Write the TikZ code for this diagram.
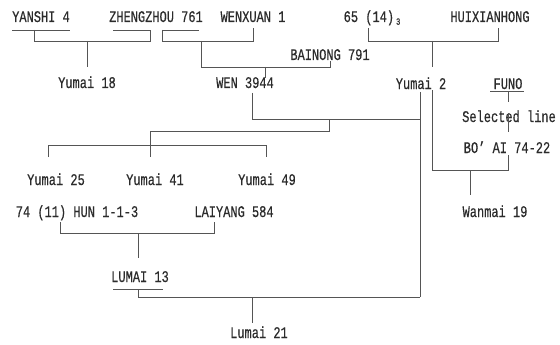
\documentclass[tikz,border=0pt]{standalone}
\usepackage{fontspec}
\setmainfont[FakeBold=0.5]{Liberation Mono}
\definecolor{txt}{HTML}{2B2B2B}
\definecolor{lnc}{HTML}{555555}
\newcommand{\lblt}[1]{\scalebox{1}[1.35]{#1}}
\begin{document}
\begin{tikzpicture}[x=1pt,y=-1pt,
  lbl/.style={inner sep=0pt,anchor=base,text=txt,font=\fontsize{12}{12}\selectfont},
  ln/.style={draw=lnc,line width=0.9pt}]
\useasboundingbox[fill=white] (0,0) rectangle (560,345);
% labels
\node[lbl] (yanshi) at (41,22) {\lblt{YANSHI 4}};
\node[lbl] (zheng) at (156,22) {\lblt{ZHENGZHOU 761}};
\node[lbl] (wenxuan) at (253,22) {\lblt{WENXUAN 1}};
\node[lbl] (s65) at (372,22) {\lblt{65 (14)\,\raisebox{-2pt}{\fontsize{7}{7}\selectfont 3}}};
\node[lbl] (hui) at (490,22) {\lblt{HUIXIANHONG}};
\node[lbl] (bainong) at (330,60) {\lblt{BAINONG 791}};
\node[lbl] (yumai18) at (87,88) {\lblt{Yumai 18}};
\node[lbl] (wen) at (245,88) {\lblt{WEN 3944}};
\node[lbl] (yumai2) at (421,89) {\lblt{Yumai 2}};
\node[lbl] (funo) at (508,89) {\lblt{FUNO}};
\node[lbl] (selected) at (509,122) {\lblt{Selected line}};
\node[lbl] (boai) at (507,153) {\lblt{BO’ AI 74-22}};
\node[lbl] (yumai25) at (56,185) {\lblt{Yumai 25}};
\node[lbl] (yumai41) at (155,185) {\lblt{Yumai 41}};
\node[lbl] (yumai49) at (267,185) {\lblt{Yumai 49}};
\node[lbl] (hun) at (77,217) {\lblt{74 (11) HUN 1-1-3}};
\node[lbl] (laiyang) at (234,217) {\lblt{LAIYANG 584}};
\node[lbl] (wanmai) at (495,217) {\lblt{Wanmai 19}};
\node[lbl] (lumai13) at (140,282) {\lblt{LUMAI 13}};
\node[lbl] (lumai21) at (259,338) {\lblt{Lumai 21}};
% junction coordinates
\coordinate (ya) at (34,30); \coordinate (zh) at (150,30);
\coordinate (zh2) at (162,30); \coordinate (wx) at (253,28);
\coordinate (bn) at (330,61);
\coordinate (c65) at (368,28); \coordinate (chu) at (498,28);
\coordinate (w1) at (252,93); \coordinate (w2) at (265,67);
\coordinate (y2a) at (420,92); \coordinate (y2b) at (432,90);
\coordinate (m25) at (48,157); \coordinate (m41) at (150,157); \coordinate (m49) at (266,157);
\coordinate (hn) at (60,222); \coordinate (ly) at (214,222);
\coordinate (l13) at (138,289); \coordinate (fn) at (508,92);
% underlines
\draw[ln] (12,30) -- (70,30);
\draw[ln] (113,30) -- (151,30);
\draw[ln] (162,30) -- (199,30);
\draw[ln] (490,91) -- (524,91);
\draw[ln] (113,289) -- (163,289);
% YANSHI x ZHENGZHOU -> Yumai 18
\draw[ln] (ya) -- (34,41) -- (150,41) -- (zh);
\draw[ln] (87,41) -- (87,67);
% ZHENGZHOU x WENXUAN, x BAINONG -> WEN 3944
\draw[ln] (zh2) -- (162,41) -- (253,41) -- (wx);
\draw[ln] (201,41) -- (201,67) -- (330,67) -- (bn);
\draw[ln] (w2) -- (265,78);
% 65(14) x HUIXIANHONG -> Yumai 2
\draw[ln] (c65) -- (368,41) -- (498,41) -- (chu);
\draw[ln] (432,41) -- (432,67);
% WEN 3944 x Yumai 2
\draw[ln] (w1) -- (252,119) -- (420,119);
\draw[ln] (y2a) -- (420,297);
\draw[ln] (329,119) -- (329,131) -- (150,131) -- (m41);
\draw[ln] (m25) -- (48,145) -- (266,145) -- (m49);
% Yumai 2 x FUNO -> Wanmai 19
\draw[ln] (fn) -- (508,102);
\draw[ln] (508,113) -- (508,132);
\draw[ln] (508,155) -- (508,170) -- (432,170) -- (y2b);
\draw[ln] (470,170) -- (470,195);
% 74(11) x LAIYANG -> LUMAI 13
\draw[ln] (hn) -- (60,233) -- (214,233) -- (ly);
\draw[ln] (138,233) -- (138,258);
% LUMAI 13 x ... -> Lumai 21
\draw[ln] (l13) -- (138,297) -- (420,297);
\draw[ln] (252,297) -- (252,323);
\end{tikzpicture}
\end{document}
